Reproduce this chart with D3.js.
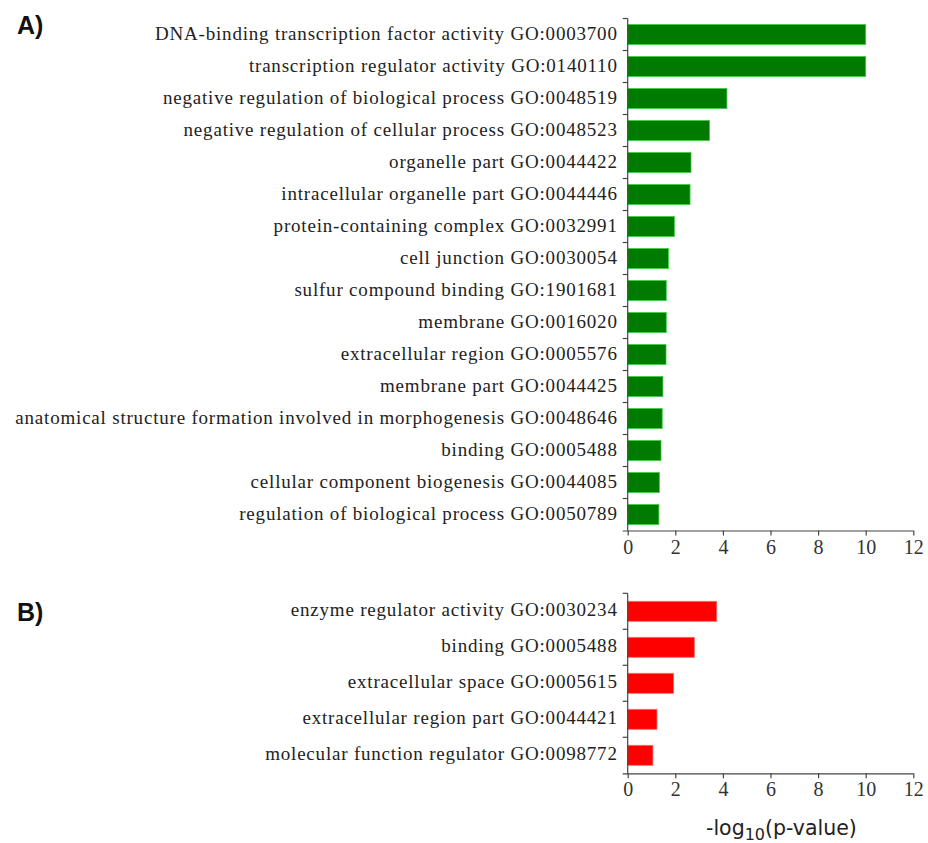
<!DOCTYPE html>
<html>
<head>
<meta charset="utf-8">
<script src="https://cdn.jsdelivr.net/npm/d3@7"></script>
<style>
  html, body { margin: 0; padding: 0; background: #fff; }
  svg { display: block; }
</style>
</head>
<body>
<svg id="chart" width="928" height="843"></svg>
<script>
// GO terms enriched in panel A (green) and panel B (red), with -log10(p-value)
const termsA = [
  "DNA-binding transcription factor activity GO:0003700",
  "transcription regulator activity GO:0140110",
  "negative regulation of biological process GO:0048519",
  "negative regulation of cellular process GO:0048523",
  "organelle part GO:0044422",
  "intracellular organelle part GO:0044446",
  "protein-containing complex GO:0032991",
  "cell junction GO:0030054",
  "sulfur compound binding GO:1901681",
  "membrane GO:0016020",
  "extracellular region GO:0005576",
  "membrane part GO:0044425",
  "anatomical structure formation involved in morphogenesis GO:0048646",
  "binding GO:0005488",
  "cellular component biogenesis GO:0044085",
  "regulation of biological process GO:0050789"
];
const valuesA = [10.0, 10.0, 4.17, 3.44, 2.66, 2.62, 1.96, 1.71, 1.62, 1.62, 1.61, 1.48, 1.45, 1.40, 1.33, 1.31];

const termsB = [
  "enzyme regulator activity GO:0030234",
  "binding GO:0005488",
  "extracellular space GO:0005615",
  "extracellular region part GO:0044421",
  "molecular function regulator GO:0098772"
];
const valuesB = [3.74, 2.80, 1.93, 1.23, 1.06];

const xTicks = [0, 2, 4, 6, 8, 10, 12];
const panelLabels = ["A)", "B)"];

const svg = d3.select("#chart");
const x = d3.scaleLinear().domain([0, 12]).range([627.7, 913.3]);

const serif = "'Liberation Serif', 'Times New Roman', serif";
const axisColor = "#444";

function panel(terms, values, top, bottom, fill, stroke) {
  const n = terms.length;
  const y = d3.scaleBand().domain(terms).range([top, bottom]);
  // bar height fixed at 20px within each band
  const step = (bottom - top) / n;
  const pin = (step - 20) / step;
  y.paddingInner(pin).paddingOuter(pin / 2);

  const g = svg.append("g");

  // bars
  g.selectAll("rect.bar")
    .data(terms)
    .join("rect")
    .attr("class", "bar")
    .attr("x", x(0))
    .attr("y", d => y(d))
    .attr("width", (d, i) => x(values[i]) - x(0))
    .attr("height", y.bandwidth())
    .attr("fill", fill)
    .attr("stroke", stroke)
    .attr("stroke-width", 0.8);

  // y axis: category labels (no tick marks at labels)
  const yAxis = g.append("g")
    .attr("transform", `translate(${x(0)},-1)`)
    .call(d3.axisLeft(y).tickSize(0).tickPadding(10));
  yAxis.select(".domain").remove();
  yAxis.selectAll("text")
    .attr("font-family", serif)
    .attr("font-size", 19)
    .attr("letter-spacing", "0.8px")
    .attr("fill", "#222");

  // tick marks between categories
  const bounds = d3.range(n).map(i => top + i * step);
  g.selectAll("line.sep")
    .data(bounds)
    .join("line")
    .attr("class", "sep")
    .attr("x1", x(0) - 5).attr("x2", x(0))
    .attr("y1", d => d).attr("y2", d => d)
    .attr("stroke", axisColor).attr("stroke-width", 1.2);

  // vertical axis line
  g.append("line")
    .attr("x1", x(0)).attr("x2", x(0))
    .attr("y1", top).attr("y2", bottom)
    .attr("stroke", axisColor).attr("stroke-width", 1.2);

  // x axis
  const xAxis = g.append("g")
    .attr("transform", `translate(0,${bottom})`)
    .call(d3.axisBottom(x).tickValues(xTicks).tickSize(5).tickPadding(4).tickSizeOuter(0));
  xAxis.select(".domain")
    .attr("d", `M${x(0) - 5},0.5H${x(12)}`)
    .attr("stroke", axisColor).attr("stroke-width", 1.2);
  xAxis.selectAll(".tick line").attr("stroke", axisColor).attr("stroke-width", 1.2);
  xAxis.selectAll("text")
    .attr("font-family", serif)
    .attr("font-size", 20)
    .attr("fill", "#333");
}

panel(termsA, valuesA, 18.5, 530.5, "#007a00", "#3ccf3c");
panel(termsB, valuesB, 593.3, 773.3, "#ff0000", "#ff6a6a");

// panel letters
svg.selectAll("text.panel")
  .data(panelLabels)
  .join("text")
  .attr("class", "panel")
  .attr("x", 17)
  .attr("y", (d, i) => i === 0 ? 34 : 621)
  .attr("font-family", "'Liberation Sans', Arial, sans-serif")
  .attr("font-weight", "bold")
  .attr("font-size", 25)
  .attr("fill", "#111")
  .text(d => d);

// axis title with subscript
const title = svg.append("text")
  .attr("x", 706)
  .attr("y", 835)
  .attr("font-family", "'DejaVu Sans', sans-serif")
  .attr("font-size", 20.5)
  .attr("fill", "#222");
title.append("tspan").text("-log");
title.append("tspan").attr("font-size", 16).attr("dy", 5).text("10");
title.append("tspan").attr("dy", -5).text("(p-value)");
</script>
</body>
</html>
